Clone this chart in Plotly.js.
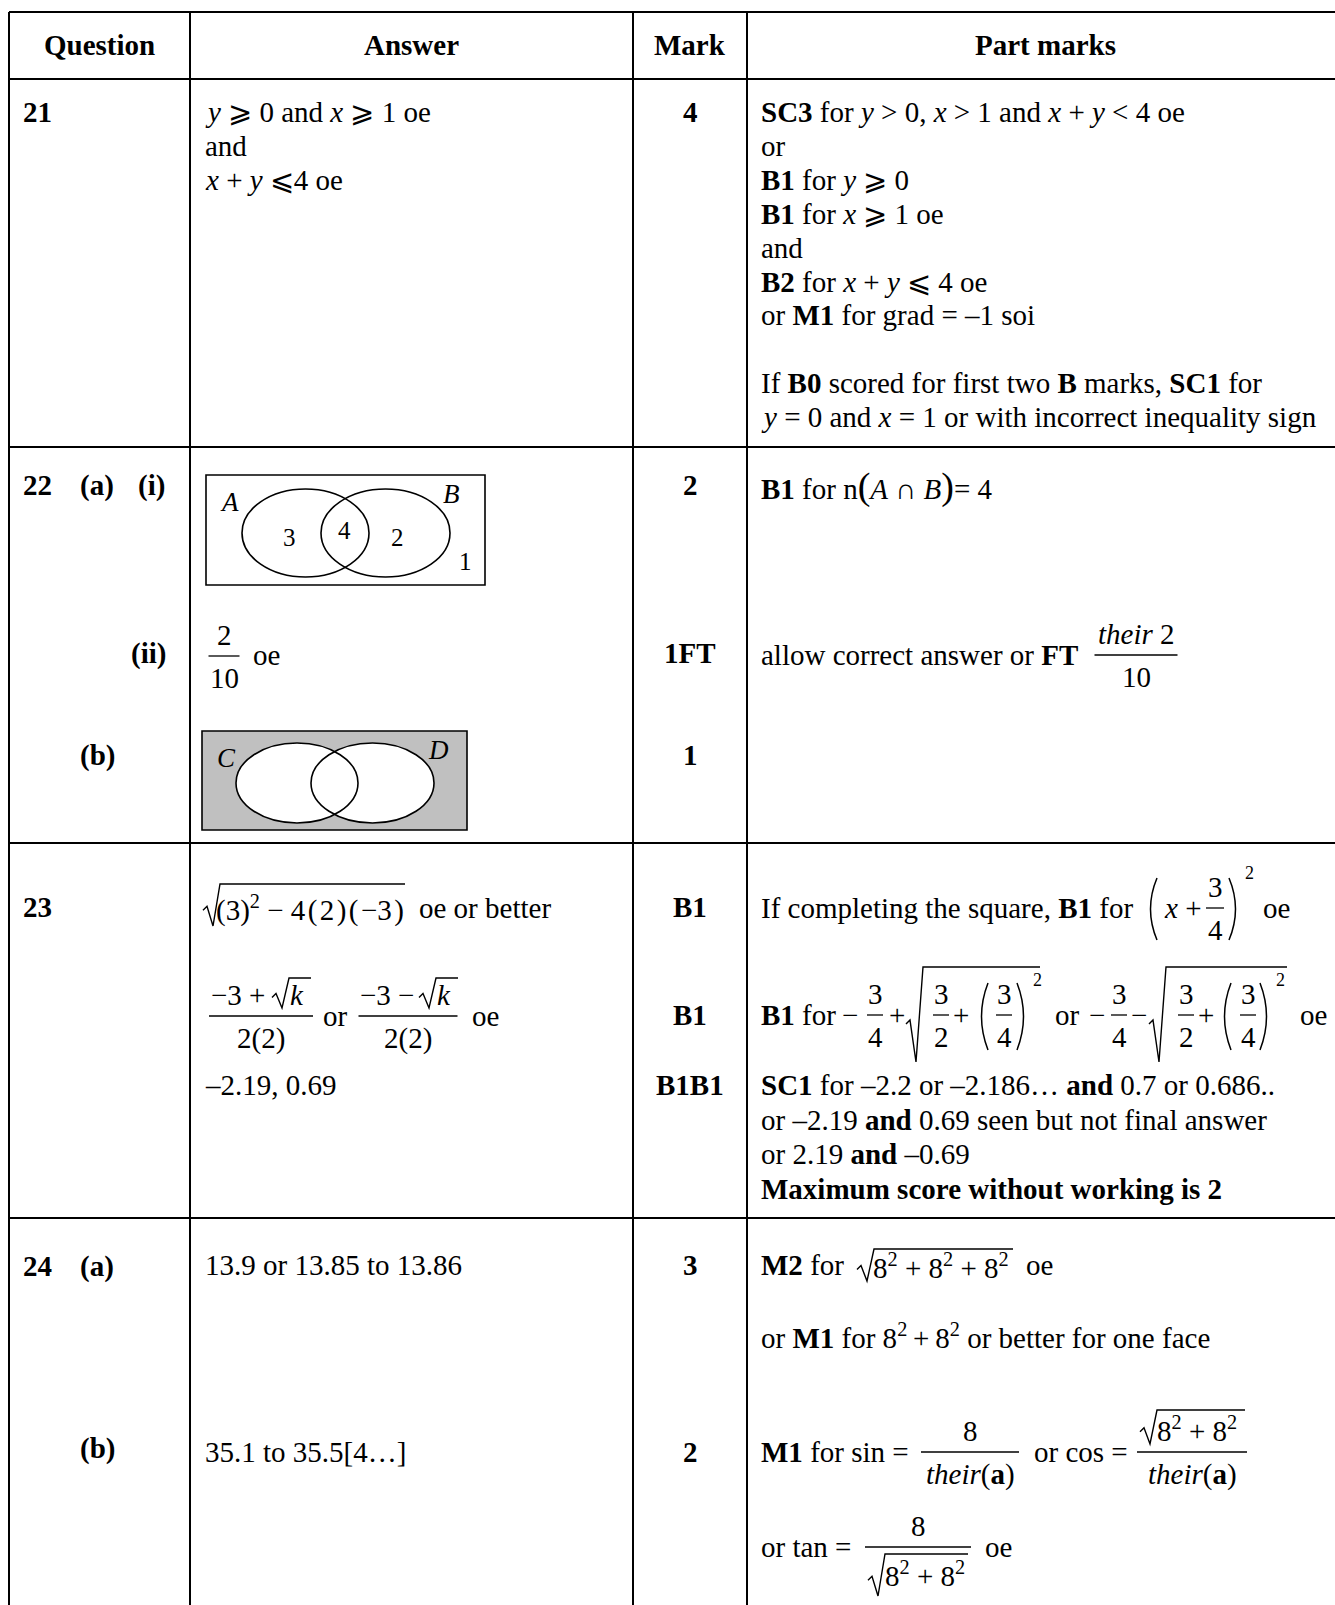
<!DOCTYPE html>
<html><head><meta charset="utf-8">
<script src="https://cdn.plot.ly/plotly-3.0.1.min.js"></script>
<style>html,body{margin:0;padding:0;background:#fff}#chart{width:1335px;height:1605px}</style>
</head><body><div id="chart"></div>
<script>
// ---------- data (text content of the mark scheme table) ----------
const headers = ['Question', 'Answer', 'Mark', 'Part marks'];
const questionLabels = ['21', '22', '23', '24'];
const partLabels22 = ['(a)', '(i)', '(ii)', '(b)'];
const partLabels24 = ['(a)', '(b)'];
const marks21 = ['4'];
const marks22 = ['2', '1FT', '1'];
const marks23 = ['B1', 'B1', 'B1B1'];
const marks24 = ['3', '2'];
const answers21 = ['<i>y</i> ⩾ 0 and <i>x</i> ⩾ 1 oe', 'and', '<i>x</i> + <i>y</i> ⩽4 oe'];
const partMarks21 = [
  '<b>SC3</b> for <i>y</i> &gt; 0, <i>x</i> &gt; 1 and <i>x</i> + <i>y</i> &lt; 4 oe',
  'or',
  '<b>B1</b> for <i>y</i> ⩾ 0',
  '<b>B1</b> for <i>x</i> ⩾ 1 oe',
  'and',
  '<b>B2</b> for <i>x</i> + <i>y</i> ⩽ 4 oe',
  'or <b>M1</b> for grad = –1 soi',
  '',
  'If <b>B0</b> scored for first two <b>B</b> marks, <b>SC1</b> for',
  '<i>y</i> = 0 and <i>x</i> = 1 or with incorrect inequality sign'
];
const vennSetsAB = ['A', 'B'];
const vennCountsAB = ['3', '4', '2', '1'];   // A only, A∩B, B only, neither
const vennSetsCD = ['C', 'D'];
const answer22ii = ['2', '10', 'oe'];
const partMarks22 = ['<b>B1</b> for n', '<i>A</i> ∩ <i>B</i>', '= 4', 'allow correct answer or <b>FT</b>', '<i>their</i> 2', '10'];
const answers23 = ['(3)<sup>2</sup> − 4\u200a(\u200a2\u200a)\u200a(\u200a−3\u200a)', 'oe or better', '−3 +', '−3 −', '<i>k</i>', '2(2)', 'or', 'oe', '–2.19, 0.69'];
const partMarks23a = ['If completing the square, <b>B1</b> for', '<i>x</i> +', '3', '4', '2', 'oe'];
const partMarks23b = ['<b>B1</b> for', '−', '+', '3', '4', '2', 'or', 'oe'];
const partMarks23c = [
  '<b>SC1</b> for –2.2 or –2.186… <b>and</b> 0.7 or 0.686..',
  'or –2.19 <b>and</b> 0.69 seen but not final answer',
  'or 2.19 <b>and</b> –0.69',
  '<b>Maximum score without working is 2</b>'
];
const answers24 = ['13.9 or 13.85 to 13.86', '35.1 to 35.5[4…]'];
const partMarks24 = [
  '<b>M2</b> for', '8<sup>2</sup> + 8<sup>2</sup> + 8<sup>2</sup>', 'oe',
  'or <b>M1</b> for 8<sup>2</sup>\u2009+\u20098<sup>2</sup> or better for one face',
  '<b>M1</b> for sin =', '8', '<i>their</i>(<b>a</b>)', 'or cos =', '8<sup>2</sup> + 8<sup>2</sup>',
  'or tan ='
];

// ---------- drawing helpers ----------
const FONT = 'Liberation Serif, Times New Roman, DejaVu Serif, serif';
const FS = 29;
const ann = [], shp = [];
function T(x, y, text, o = {}) {
  ann.push({x: x, y: y, xref: 'x', yref: 'y', text: text, showarrow: false,
    xanchor: o.a || 'left', yanchor: 'middle', borderpad: 0, borderwidth: 0,
    font: {family: FONT, size: o.s || FS, color: '#000'}});
}
function L(x0, y0, x1, y1, w) {
  shp.push({type: 'line', xref: 'x', yref: 'y', x0: x0, y0: y0, x1: x1, y1: y1,
    line: {color: '#000', width: w || 2}});
}
function P(path, w) {
  shp.push({type: 'path', xref: 'x', yref: 'y', path: path, line: {color: '#000', width: w || 1.4}});
}
function E(x0, x1, y0, y1, fill, w) {
  shp.push({type: 'circle', xref: 'x', yref: 'y', x0: x0, x1: x1, y0: y0, y1: y1,
    fillcolor: fill || 'rgba(0,0,0,0)', line: {color: fill && w === 0 ? 'rgba(0,0,0,0)' : '#000', width: w === 0 ? 0 : (w || 1.6)}});
}
function R(x0, x1, y0, y1, fill) {
  shp.push({type: 'rect', xref: 'x', yref: 'y', x0: x0, x1: x1, y0: y0, y1: y1,
    fillcolor: fill || 'rgba(0,0,0,0)', line: {color: '#000', width: 1.6}});
}
function frac(xc, yb, w, num, den) {
  L(xc - w / 2, yb, xc + w / 2, yb, 1.3);
  if (num) T(xc, yb - 21, num, {a: 'center'});
  if (den) T(xc, yb + 22, den, {a: 'center'});
}
function rad(x, yt, yb, x1) {
  const ym = yb - (yb - yt) * 0.42;
  P(`M${x},${ym + 2} L${x + 4},${ym - 2} L${x + 10},${yb} L${x + 17},${yt} L${x1},${yt}`, 1.4);
}
function paren(x0, x1, yt, yb, left) {
  const m = (yt + yb) / 2;
  if (left) P(`M${x1},${yt} Q${x0 - 3},${m} ${x1},${yb}`, 1.5);
  else P(`M${x0},${yt} Q${x1 + 3},${m} ${x0},${yb}`, 1.5);
}

// ---------- table grid ----------
const colX = [9, 190, 633, 747, 1343];
const rowY = [12, 79, 447, 843, 1218];
rowY.forEach(y => L(colX[0], y, 1345, y, 2));
colX.slice(0, 4).forEach(x => L(x, rowY[0], x, 1610, 2));
headers.forEach((h, i) => T((colX[i] + colX[i + 1]) / 2, 45, '<b>' + h + '</b>', {a: 'center'}));
const markX = (colX[2] + colX[3]) / 2;

// ---------- row 21 ----------
T(23, 112, '<b>' + questionLabels[0] + '</b>');
answers21.forEach((s, i) => T(205, 112 + i * 34, s));
T(markX, 112, '<b>' + marks21[0] + '</b>', {a: 'center'});
partMarks21.forEach((s, i) => { if (s) T(761, 112 + i * 33.9, s); });

// ---------- row 22 ----------
T(23, 485, '<b>' + questionLabels[1] + '</b>');
T(80, 485, '<b>' + partLabels22[0] + '</b>');
T(138, 485, '<b>' + partLabels22[1] + '</b>');
R(206, 485, 475, 585);
E(242, 369, 489, 577);
E(321, 450, 489, 577);
T(229, 502, '<i>' + vennSetsAB[0] + '</i>', {a: 'center', s: 27});
T(451, 494, '<i>' + vennSetsAB[1] + '</i>', {a: 'center', s: 27});
T(289, 537, vennCountsAB[0], {a: 'center', s: 25});
T(344, 530, vennCountsAB[1], {a: 'center', s: 25});
T(397, 537, vennCountsAB[2], {a: 'center', s: 25});
T(465, 561, vennCountsAB[3], {a: 'center', s: 25});
T(markX, 485, '<b>' + marks22[0] + '</b>', {a: 'center'});
T(761, 486, partMarks22[0] + '<span style="font-size:38px">(</span>' + partMarks22[1] +
  '<span style="font-size:38px">)</span>' + partMarks22[2]);

T(166, 653, '<b>' + partLabels22[2] + '</b>', {a: 'right'});
frac(224, 656, 31, answer22ii[0], answer22ii[1]);
T(253, 655, answer22ii[2]);
T(markX, 653, '<b>' + marks22[1] + '</b>', {a: 'center'});
T(761, 655, partMarks22[3]);
frac(1136, 655, 83, partMarks22[4], partMarks22[5]);

T(80, 755, '<b>' + partLabels22[3] + '</b>');
R(202, 467, 731, 830, '#c0c0c0');
E(236, 358, 743, 823, '#ffffff', 0);
E(311, 434, 743, 823, '#ffffff', 0);
E(236, 358, 743, 823);
E(311, 434, 743, 823);
T(226, 758, '<i>' + vennSetsCD[0] + '</i>', {a: 'center', s: 27});
T(438, 750, '<i>' + vennSetsCD[1] + '</i>', {a: 'center', s: 27});
T(markX, 755, '<b>' + marks22[2] + '</b>', {a: 'center'});

// ---------- row 23 ----------
T(23, 907, '<b>' + questionLabels[2] + '</b>');
rad(203, 884, 926, 405);
T(216, 908, answers23[0]);
T(419, 908, answers23[1]);
// quadratic-formula fractions
frac(261, 1016, 104, null, answers23[5]);
T(211, 995, answers23[2]);
rad(272, 978, 1008, 311);
T(290, 995, answers23[4]);
T(323, 1016, answers23[6]);
frac(408, 1016, 99, null, answers23[5]);
T(360, 995, answers23[3]);
rad(419, 978, 1008, 458);
T(437, 995, answers23[4]);
T(472, 1016, answers23[7]);
T(205, 1085, answers23[8]);
T(markX, 907, '<b>' + marks23[0] + '</b>', {a: 'center'});
T(markX, 1015, '<b>' + marks23[1] + '</b>', {a: 'center'});
T(markX, 1085, '<b>' + marks23[2] + '</b>', {a: 'center'});
// completing the square line
T(761, 908, partMarks23a[0]);
paren(1147, 1157, 878, 940, true);
T(1164, 908, partMarks23a[1]);
frac(1215, 908, 18, partMarks23a[2], partMarks23a[3]);
paren(1229, 1239, 878, 940, false);
T(1245, 873, partMarks23a[4], {s: 18});
T(1263, 908, partMarks23a[5]);
// B1 for -3/4 ± sqrt(3/2 + (3/4)^2)
T(761, 1015, partMarks23b[0]);
[[842, 875, 889, 906, 1040, 941, 961, 978, 1004, 1017, 1033, partMarks23b[2]],
 [1089, 1119, 1131, 1149, 1287, 1186, 1206, 1221, 1248, 1260, 1276, partMarks23b[1]]]
  .forEach(g => {
    T(g[0], 1015, partMarks23b[1]);
    frac(g[1], 1015, 16, partMarks23b[3], partMarks23b[4]);
    T(g[2], 1015, g[11]);
    rad(g[3], 967, 1062, g[4]);
    frac(g[5], 1015, 16, partMarks23b[3], partMarks23b[5]);
    T(g[6], 1015, partMarks23b[2], {a: 'center'});
    paren(g[7], g[7] + 10, 983, 1050, true);
    frac(g[8], 1015, 16, partMarks23b[3], partMarks23b[4]);
    paren(g[9], g[9] + 10, 983, 1050, false);
    T(g[10], 980, partMarks23b[5], {s: 18});
  });
T(1055, 1015, partMarks23b[6]);
T(1300, 1015, partMarks23b[7]);
partMarks23c.forEach((s, i) => T(761, 1085 + i * 34.5, s));

// ---------- row 24 ----------
T(23, 1266, '<b>' + questionLabels[3] + '</b>');
T(80, 1266, '<b>' + partLabels24[0] + '</b>');
T(205, 1265, answers24[0]);
T(markX, 1265, '<b>' + marks24[0] + '</b>', {a: 'center'});
T(761, 1265, partMarks24[0]);
rad(857, 1249, 1281, 1013);
T(873, 1266, partMarks24[1]);
T(1026, 1265, partMarks24[2]);
T(761, 1336, partMarks24[3]);

T(80, 1448, '<b>' + partLabels24[1] + '</b>');
T(205, 1452, answers24[1]);
T(markX, 1452, '<b>' + marks24[1] + '</b>', {a: 'center'});
T(761, 1452, partMarks24[4]);
frac(970, 1452, 98, partMarks24[5], partMarks24[6]);
T(1034, 1452, partMarks24[7]);
frac(1192, 1452, 110, null, partMarks24[6]);
rad(1140, 1410, 1444, 1245);
T(1157, 1429, partMarks24[8]);

T(761, 1547, partMarks24[9]);
frac(918, 1547, 106, partMarks24[5], null);
rad(868, 1554, 1596, 968);
T(885, 1574, partMarks24[8]);
T(985, 1547, partMarks24[2]);

// ---------- plot ----------
const layout = {
  width: 1335, height: 1605,
  margin: {l: 0, r: 0, t: 0, b: 0, pad: 0},
  paper_bgcolor: '#ffffff', plot_bgcolor: '#ffffff',
  showlegend: false,
  xaxis: {range: [0, 1335], visible: false, fixedrange: true},
  yaxis: {range: [1605, 0], visible: false, fixedrange: true},
  shapes: shp, annotations: ann
};
Plotly.newPlot('chart', [{type: 'scatter', x: [], y: [], mode: 'markers', hoverinfo: 'skip', showlegend: false}],
  layout, {staticPlot: true, displayModeBar: false});
</script></body></html>
